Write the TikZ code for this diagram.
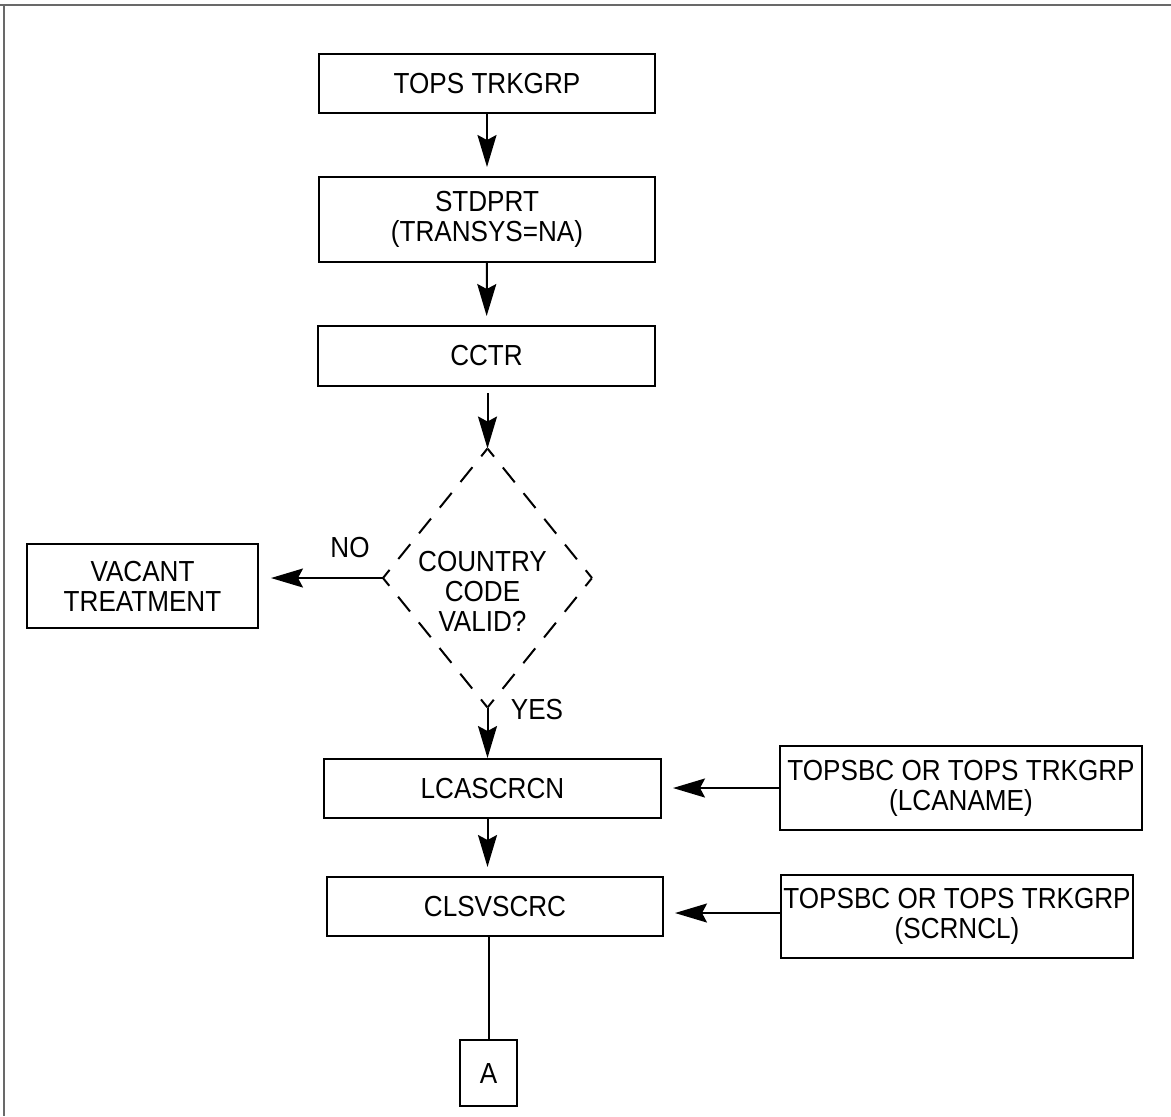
\documentclass[tikz,border=0pt]{standalone}
\usepackage{fontspec}
\setmainfont{Liberation Sans}[FakeStretch=0.9]
\usetikzlibrary{arrows.meta,shapes.geometric}
\definecolor{frameG}{RGB}{105,105,105}

\begin{document}
\begin{tikzpicture}[x=0.5pt,y=-0.5pt,line width=1pt,>={Stealth[length=16pt,width=9.5pt,inset=2.5pt]},
  font=\fontsize{14.5pt}{15pt}\selectfont,
  flowbox/.style 2 args={draw,inner sep=0pt,minimum width=#1,minimum height=#2,align=center},
  decision/.style={shape=diamond,inner sep=0pt,outer sep=0pt,minimum width=104.5pt,minimum height=129.5pt},
  diadash/.style={dash pattern=on 5pt off 7pt on 9.5pt off 7pt on 9.5pt off 7pt on 9.5pt off 7pt on 9.5pt off 7pt on 5pt off 30pt}]
\useasboundingbox (0,0) rectangle (1171,1116);
\draw[frameG] (0,5)--(1171,5); \draw[frameG] (4,5)--(4,1116);
\node[flowbox={168pt}{29.5pt}] (trkgrp) at (487,83.5) {TOPS TRKGRP};
\node[flowbox={168pt}{42.5pt}] (stdprt) at (487,219.5) {STDPRT\\(TRANSYS=NA)};
\node[flowbox={168.5pt}{30pt}] (cctr) at (486.5,356) {CCTR};
\node[decision] (valid) at (487.5,578) {};
\foreach \a/\b in {north/west,west/south,south/east,east/north} \draw[diadash] (valid.\a)--(valid.\b);
\node[align=center] (validtxt) at ([xshift=-2.5pt,yshift=-6.5pt]valid.center) {COUNTRY\\CODE\\VALID?};
\node[flowbox={115.5pt}{42pt}] (vacant) at (142.5,586) {VACANT\\TREATMENT};
\node[flowbox={168.5pt}{29.5pt}] (lcascrcn) at (492.5,788.5) {LCASCRCN};
\node[flowbox={168pt}{29.5pt}] (clsvscrc) at (495,906.5) {CLSVSCRC};
\node[flowbox={181pt}{42pt}] (lcaname) at (961,788) {TOPSBC OR TOPS TRKGRP\\(LCANAME)};
\node[flowbox={176pt}{41.5pt}] (scrncl) at (957,916.5) {TOPSBC OR TOPS TRKGRP\\(SCRNCL)};
\node[flowbox={28.5pt}{33pt}] (conA) at (488.5,1073) {A};
\node (no) at (350,547) {NO};
\node (yes) at (537,709) {YES};
\draw[->,shorten >=4.5pt] (trkgrp)--(stdprt);
\draw[->,shorten >=4.5pt] (stdprt)--(cctr);
\draw[->,shorten <=3pt] (cctr.south -| valid.north)--(valid.north);
\draw[->,shorten >=6pt] (valid.west)--(valid.west -| vacant.east);
\draw[->] (valid.south)--(valid.south |- lcascrcn.north);
\draw[->,shorten >=4.5pt] (lcascrcn.south -| valid.south)--(clsvscrc.north -| valid.south);
\draw[->,shorten >=5.5pt] (lcaname.west)--(lcaname.west -| lcascrcn.east);
\coordinate (scrnclout) at ([yshift=1.75pt]scrncl.west);
\draw[->,shorten >=5.5pt] (scrnclout)--(scrnclout -| clsvscrc.east);
\draw (clsvscrc.south -| conA.north)--(conA.north);
\end{tikzpicture}
\end{document}
